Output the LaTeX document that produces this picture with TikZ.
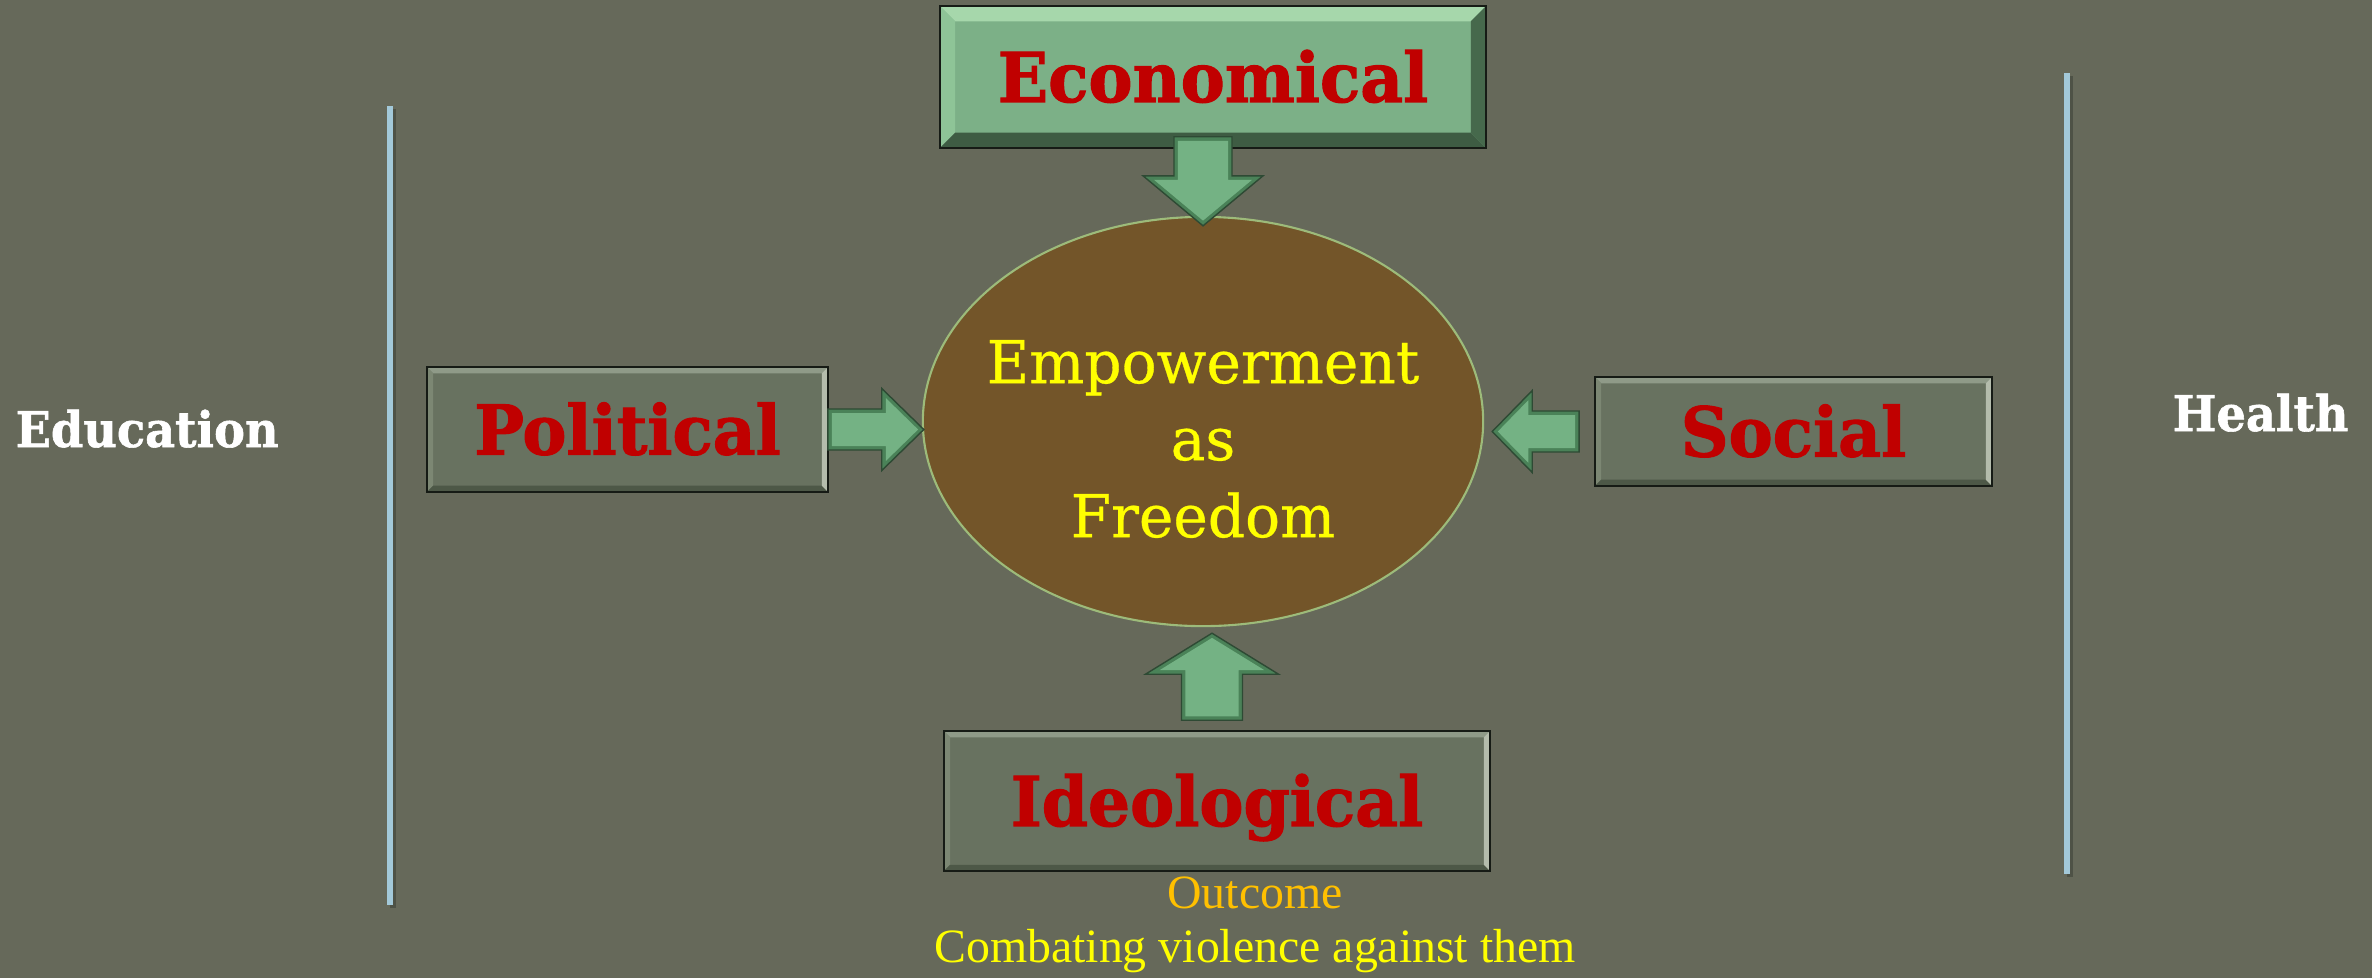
\documentclass[tikz,border=0pt]{standalone}
\usepackage{fontspec}
\usetikzlibrary{calc,shapes.geometric}
\newfontfamily\slabB[FakeStretch=0.965,FakeBold=1.6]{DejaVu Serif}
\newfontfamily\slabS[FakeStretch=0.94,FakeBold=1.2]{DejaVu Serif}
\newfontfamily\slabR[FakeStretch=0.985,FakeBold=0.5]{DejaVu Serif}
\newfontfamily\timesf{Liberation Serif}
\definecolor{bgc}{HTML}{66695A}
\definecolor{redtxt}{HTML}{C00000}
\definecolor{ecofill}{HTML}{7CB087}
\definecolor{ecotop}{HTML}{A6D7AB}
\definecolor{ecoleft}{HTML}{8EC497}
\definecolor{ecobot}{HTML}{3E5C43}
\definecolor{ecoright}{HTML}{46694C}
\definecolor{gfill}{HTML}{687260}
\definecolor{gtop}{HTML}{8F9A88}
\definecolor{gleft}{HTML}{7C8773}
\definecolor{gbot}{HTML}{4D5847}
\definecolor{gright}{HTML}{B4BCAC}
\definecolor{boxline}{HTML}{161B15}
\definecolor{ellfill}{HTML}{735529}
\definecolor{ellline}{HTML}{9DBB7A}
\definecolor{arrowedge}{HTML}{4A8258}
\definecolor{arrowline}{HTML}{2E4A34}
\definecolor{arrowfill}{HTML}{74B284}
\definecolor{linec}{HTML}{A3C9D9}
\definecolor{lineshadow}{HTML}{4E5246}
\definecolor{outc}{HTML}{FFC000}
\definecolor{yel}{HTML}{FFFF00}
\newcommand\bevelbox[6]{%
  \fill[#3] (#1.north west) -- (#1.north east) -- ($(#1.north east)+(-#2,-#2)$) -- ($(#1.north west)+(#2,-#2)$) -- cycle;
  \fill[#4] (#1.south west) -- (#1.north west) -- ($(#1.north west)+(#2,-#2)$) -- ($(#1.south west)+(#2,#2)$) -- cycle;
  \fill[#5] (#1.south east) -- (#1.south west) -- ($(#1.south west)+(#2,#2)$) -- ($(#1.south east)+(-#2,#2)$) -- cycle;
  \fill[#6] (#1.north east) -- (#1.south east) -- ($(#1.south east)+(-#2,#2)$) -- ($(#1.north east)+(-#2,-#2)$) -- cycle;
  \draw[boxline, line width=0.6pt] (#1.north west) rectangle (#1.south east);
}
\newcommand\blockarrow[6]{%
  \coordinate (ba-s) at (#1);
  \coordinate (ba-t) at (#2);
  \coordinate (ba-h) at ($(ba-t)!#5!(ba-s)$);
  \path[#6] ($(ba-s)!#3!90:(ba-t)$) -- ($(ba-h)!#3!-90:(ba-s)$) -- ($(ba-h)!#4!-90:(ba-s)$) -- (ba-t) -- ($(ba-h)!#4!90:(ba-s)$) -- ($(ba-h)!#3!90:(ba-s)$) -- ($(ba-s)!#3!-90:(ba-t)$) -- cycle;
}
\begin{document}
\begin{tikzpicture}[x=0.01cm,y=-0.01cm,
  lbl/.style={text=redtxt, font=\slabB\bfseries\fontsize{19.5}{20}\selectfont, inner sep=0pt, text height=14.2pt, text depth=0pt},
  ecobox/.style={lbl, rectangle, fill=ecofill},
  gbox/.style={lbl, rectangle, fill=gfill},
  side/.style={text=white, font=\slabS\bfseries\fontsize{14}{16}\selectfont, inner sep=0pt, anchor=base west},
  emptxt/.style={text=yel, font=\slabR\fontsize{16.8}{21.9}\selectfont, align=center, inner sep=0pt},
  outtxt/.style={font=\timesf\fontsize{13.6}{16}\selectfont, inner sep=0pt, anchor=base},
  vline/.style={linec, line width=1.7pt},
  vshadow/.style={lineshadow, line width=1.7pt},
  arrowouter/.style={fill=arrowedge, draw=arrowline, line width=0.4pt, line join=miter},
  arrowinner/.style={fill=arrowfill}
]
% background
\fill[bgc] (0,0) rectangle (2372,978);
% vertical lines
\coordinate (l1t) at (390,106);
\coordinate (l1b) at (390,905);
\coordinate (l2t) at (2067,73);
\coordinate (l2b) at (2067,874);
\draw[vshadow] ($(l1t)+(3,3)$) -- ($(l1b)+(3,3)$);
\draw[vline] (l1t) -- (l1b);
\draw[vshadow] ($(l2t)+(3,3)$) -- ($(l2b)+(3,3)$);
\draw[vline] (l2t) -- (l2b);
% side labels
\node[side] (edu) at (15,447) {Education};
\node[side] (hea) at (2172,431) {Health};
% central ellipse
\node[ellipse, fill=ellfill, draw=ellline, line width=0.6pt, minimum width=5.60cm, minimum height=4.09cm, inner sep=0pt] (emp) at (1203,421.5) {};
\node[emptxt] (emptext) at (1203,439) {Empowerment\\as\\Freedom};
% boxes
\node[ecobox, minimum width=5.44cm, minimum height=1.40cm] (eco) at (1213,77) {};
\bevelbox{eco}{0.15cm}{ecotop}{ecoleft}{ecobot}{ecoright}
\node[lbl] (ecotext) at (eco) {Economical};
\node[gbox, minimum width=3.99cm, minimum height=1.23cm] (pol) at (627.5,429.5) {};
\bevelbox{pol}{0.06cm}{gtop}{gleft}{gbot}{gright}
\node[lbl] (poltext) at (pol) {Political};
\node[gbox, minimum width=3.95cm, minimum height=1.07cm] (soc) at (1793.5,431.5) {};
\bevelbox{soc}{0.06cm}{gtop}{gleft}{gbot}{gright}
\node[lbl] (soctext) at (soc) {Social};
\node[gbox, minimum width=5.44cm, minimum height=1.38cm] (ideo) at (1217,801) {};
\bevelbox{ideo}{0.06cm}{gtop}{gleft}{gbot}{gright}
\node[lbl] (ideotext) at (ideo) {Ideological};
% arrows
\coordinate (dA) at ($(emp.north |- eco.south)+(0,-11)$);
\coordinate (dT) at ($(emp.north)+(0,10)$);
\coordinate (dAi) at ($(dA)!0.04cm!(dT)$);
\coordinate (dTi) at ($(dT)!0.052cm!(dA)$);
\blockarrow{dA}{dT}{0.29cm}{0.60cm}{0.50cm}{arrowouter}
\blockarrow{dAi}{dTi}{0.25cm}{0.49cm}{0.408cm}{arrowinner}
\coordinate (rA) at (pol.east);
\coordinate (rT) at ($(pol.east -| emp.west)+(2,0)$);
\coordinate (rAi) at ($(rA)!0.04cm!(rT)$);
\coordinate (rTi) at ($(rT)!0.057cm!(rA)$);
\blockarrow{rA}{rT}{0.205cm}{0.41cm}{0.42cm}{arrowouter}
\blockarrow{rAi}{rTi}{0.165cm}{0.315cm}{0.323cm}{arrowinner}
\coordinate (lA) at ($(soc.west)+(-16,0)$);
\coordinate (lT) at ($(soc.west -| emp.east)+(8,0)$);
\coordinate (lAi) at ($(lA)!0.04cm!(lT)$);
\coordinate (lTi) at ($(lT)!0.056cm!(lA)$);
\blockarrow{lA}{lT}{0.205cm}{0.41cm}{0.40cm}{arrowouter}
\blockarrow{lAi}{lTi}{0.165cm}{0.312cm}{0.304cm}{arrowinner}
\coordinate (uA) at ($(ideo.north)+(-5,-11)$);
\coordinate (uT) at ($(uA |- emp.south)+(0,6)$);
\coordinate (uAi) at ($(uA)!0.04cm!(uT)$);
\coordinate (uTi) at ($(uT)!0.047cm!(uA)$);
\blockarrow{uA}{uT}{0.305cm}{0.665cm}{0.41cm}{arrowouter}
\blockarrow{uAi}{uTi}{0.265cm}{0.524cm}{0.323cm}{arrowinner}
% outcome text
\node[outtxt, text=outc] (outc) at (1255,908) {Outcome};
\node[outtxt, text=yel] (comb) at (1255,962) {Combating violence against them};
\end{tikzpicture}
\end{document}
